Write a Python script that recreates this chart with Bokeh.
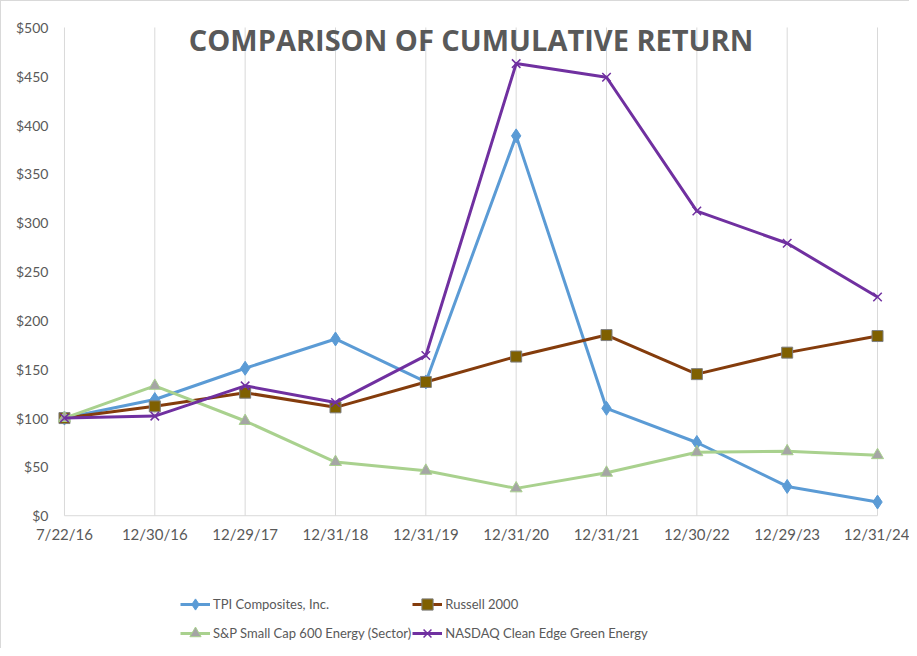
from bokeh.plotting import figure
from bokeh.models import Legend, LegendItem, Label, FixedTicker, Range1d
from bokeh.embed import file_html
from bokeh.resources import INLINE

# ---- data ----
dates = ["7/22/16", "12/30/16", "12/29/17", "12/31/18", "12/31/19",
         "12/31/20", "12/31/21", "12/30/22", "12/29/23", "12/31/24"]
tpi = [100, 119, 151, 181, 137, 389, 110, 75, 30, 14]
russell = [100, 112, 126, 111, 137, 163, 185, 145, 167, 184]
sp600 = [100, 133, 97, 55, 46, 28, 44, 65, 66, 62]
nasdaq = [100, 102, 133, 116, 164, 463, 449, 312, 279, 224]
y_ticks = [0, 50, 100, 150, 200, 250, 300, 350, 400, 450, 500]
names = ["TPI Composites, Inc.", "Russell 2000",
         "S&P Small Cap 600 Energy (Sector)", "NASDAQ Clean Edge Green Energy"]
title_text = "COMPARISON OF CUMULATIVE RETURN"

x = list(range(len(dates)))
n = len(x)
FONT = "Lato"
GRAY = "#595959"
GRID = "#d9d9d9"

# the frame fills the canvas; axes sit at fixed data locations inside it
p = figure(width=909, height=648, output_backend="svg", toolbar_location=None,
           x_range=Range1d(-0.697, n - 1 + 0.365), y_range=Range1d(-137, 526.6),
           min_border_left=0, min_border_right=0, min_border_top=0,
           min_border_bottom=0, background_fill_color="white",
           border_fill_color="white", outline_line_color=None,
           styles={"border-top": "1px solid #d9d9d9", "border-left": "1px solid #d9d9d9"})

# axes
p.xaxis.ticker = FixedTicker(ticks=x)
p.xaxis.major_label_overrides = {i: d for i, d in zip(x, dates)}
p.xaxis.fixed_location = y_ticks[0]
p.yaxis.ticker = FixedTicker(ticks=y_ticks)
p.yaxis.major_label_overrides = {v: f"${v}" for v in y_ticks}
p.yaxis.fixed_location = x[0]
for ax in (p.xaxis, p.yaxis):
    ax.major_tick_line_color = None
    ax.minor_tick_line_color = None
    ax.major_label_text_font = FONT
    ax.major_label_text_color = GRAY
    ax.axis_line_color = None
p.yaxis.major_label_text_font_size = "14px"
p.xaxis.major_label_text_font_size = "15px"
p.yaxis.major_label_standoff = 10
p.xaxis.major_label_standoff = 3

p.grid.grid_line_color = None

# vertical gridlines and baseline, spanning $0..$500 only
p.segment(x0=x, x1=x, y0=[y_ticks[0]] * n, y1=[y_ticks[-1]] * n,
          line_color=GRID, line_width=1)
p.segment(x0=[x[0]], x1=[x[-1]], y0=[y_ticks[0]], y1=[y_ticks[0]],
          line_color=GRID, line_width=1)

# TPI
l1 = p.line(x, tpi, line_color="#5B9BD5", line_width=3)
m1 = p.scatter(x, tpi, marker="diamond", size=14, fill_color="#5B9BD5",
               line_color="#5B9BD5")
# Russell
l2 = p.line(x, russell, line_color="#843C0C", line_width=3)
m2 = p.scatter(x, russell, marker="square", size=11, fill_color="#7F6000",
               line_color="#7F7F7F", line_width=1)
# S&P
l3 = p.line(x, sp600, line_color="#A9D18E", line_width=3)
m3 = p.scatter(x, sp600, marker="triangle", size=12, fill_color="#A5A5A5",
               line_color="#A9D18E", line_width=1)
# NASDAQ
l4 = p.line(x, nasdaq, line_color="#7030A0", line_width=3)
m4 = p.scatter(x, nasdaq, marker="x", size=12, line_color="#7030A0",
               line_width=1.5)

items = [LegendItem(label=names[0], renderers=[l1, m1]),
         LegendItem(label=names[1], renderers=[l2, m2]),
         LegendItem(label=names[2], renderers=[l3, m3]),
         LegendItem(label=names[3], renderers=[l4, m4])]

legend = Legend(items=items, location=(179, 2), orientation="horizontal",
                ncols=2, glyph_width=30, glyph_height=28, label_standoff=3,
                label_text_font=FONT, label_text_font_size="13px",
                label_text_color=GRAY, label_height=28, spacing=1,
                padding=0, margin=0, border_line_color=None,
                background_fill_alpha=0)
p.add_layout(legend, "center")

title = Label(x=(x[0] + x[-1]) / 2, y=y_ticks[-1], y_offset=-12, text=title_text,
              text_align="center", text_baseline="middle", text_font="Open Sans",
              text_font_style="bold", text_font_size="29px", text_color=GRAY)
p.add_layout(title)

open("out.html", "w").write(file_html(p, INLINE))
